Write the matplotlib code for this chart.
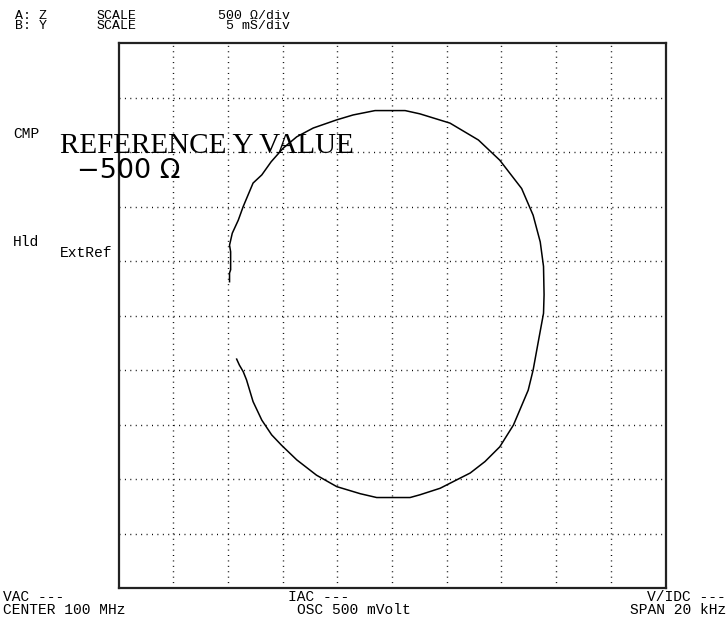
import matplotlib
matplotlib.use("Agg")
import matplotlib.pyplot as plt

# Impedance trace, in grid divisions (10 x 10 screen)
trace_x = [2.03, 2.03, 2.05, 2.05, 2.03, 2.08, 2.19, 2.28, 2.46, 2.62,
           2.79, 3.01, 3.26, 3.56, 3.99, 4.29, 4.69, 5.24, 5.51, 6.06,
           6.58, 6.97, 7.37, 7.58, 7.71, 7.77, 7.78, 7.77, 7.68, 7.58,
           7.49, 7.22, 6.97, 6.70, 6.43, 5.88, 5.51, 5.33, 4.72, 4.42,
           3.99, 3.62, 3.26, 2.98, 2.80, 2.62, 2.46, 2.34, 2.28, 2.21, 2.16]
trace_y = [5.62, 5.78, 5.84, 6.17, 6.29, 6.51, 6.75, 7.00, 7.43, 7.58,
           7.82, 8.07, 8.28, 8.44, 8.59, 8.68, 8.76, 8.76, 8.70, 8.53,
           8.22, 7.85, 7.33, 6.84, 6.35, 5.90, 5.38, 5.04, 4.55, 4.00,
           3.63, 2.99, 2.59, 2.32, 2.11, 1.83, 1.71, 1.66, 1.66, 1.73,
           1.86, 2.07, 2.35, 2.62, 2.81, 3.08, 3.42, 3.82, 3.97, 4.09, 4.20]

n_div = 10

trace_a = "Z"
trace_b = "Y"
scale_a = "500 Ω/div"
scale_b = "5 mS/div"
ref_value = "−500 Ω"
center = "CENTER 100 MHz"
osc = "OSC 500 mVolt"
span = "SPAN 20 kHz"

W, H = 727, 624
fig = plt.figure(figsize=(W / 100, H / 100), dpi=100)
fig.patch.set_facecolor("white")

# screen area in pixels
left, right, top, bottom = 118.5, 665.5, 43, 588
ax = fig.add_axes([left / W, 1 - bottom / H, (right - left) / W, (bottom - top) / H])
ax.set_xlim(0, n_div)
ax.set_ylim(0, n_div)
ax.set_xticks(range(1, n_div))
ax.set_yticks(range(1, n_div))
ax.tick_params(length=0, labelbottom=False, labelleft=False)
ax.grid(True, color="black", linewidth=1.0, linestyle=(0, (0.7, 3.2)))
for s in ax.spines.values():
    s.set_linewidth(1.6)
    s.set_color("#222222")

ax.plot(trace_x, trace_y, color="black", linewidth=1.1)

# annotation layer in pixel coordinates
ov = fig.add_axes([0, 0, 1, 1])
ov.set_xlim(0, W)
ov.set_ylim(H, 0)
ov.axis("off")
ov.patch.set_alpha(0)

mono = dict(family="Liberation Mono", fontsize=10.5, color="black", va="center")
hdr = dict(mono, fontsize=9.5, linespacing=0.82)
ov.text(15, 21, "A: " + trace_a + "\nB: " + trace_b, **hdr)
ov.text(97, 21, "SCALE\nSCALE", **hdr)
ov.text(290, 21, scale_a + "\n" + scale_b, ha="right", multialignment="right", **hdr)

ov.text(13, 134, "CMP", **mono)
ov.text(13, 242, "Hld", **mono)
ov.text(60, 253, "ExtRef", **mono)

ov.text(60, 153, "REFERENCE Y VALUE", family="Liberation Serif", fontsize=21,
        va="baseline", color="black")
ov.text(77, 178, ref_value, family="DejaVu Sans", fontsize=19.5,
        va="baseline", color="black")

ov.text(3, 597, "VAC ---", **mono)
ov.text(3, 610, center, **mono)
ov.text(288, 597, "IAC ---", **mono)
ov.text(297, 610, osc, **mono)
ov.text(726, 597, "V/IDC ---", ha="right", **mono)
ov.text(726, 610, span, ha="right", **mono)

fig.savefig("out.png", dpi=100)
